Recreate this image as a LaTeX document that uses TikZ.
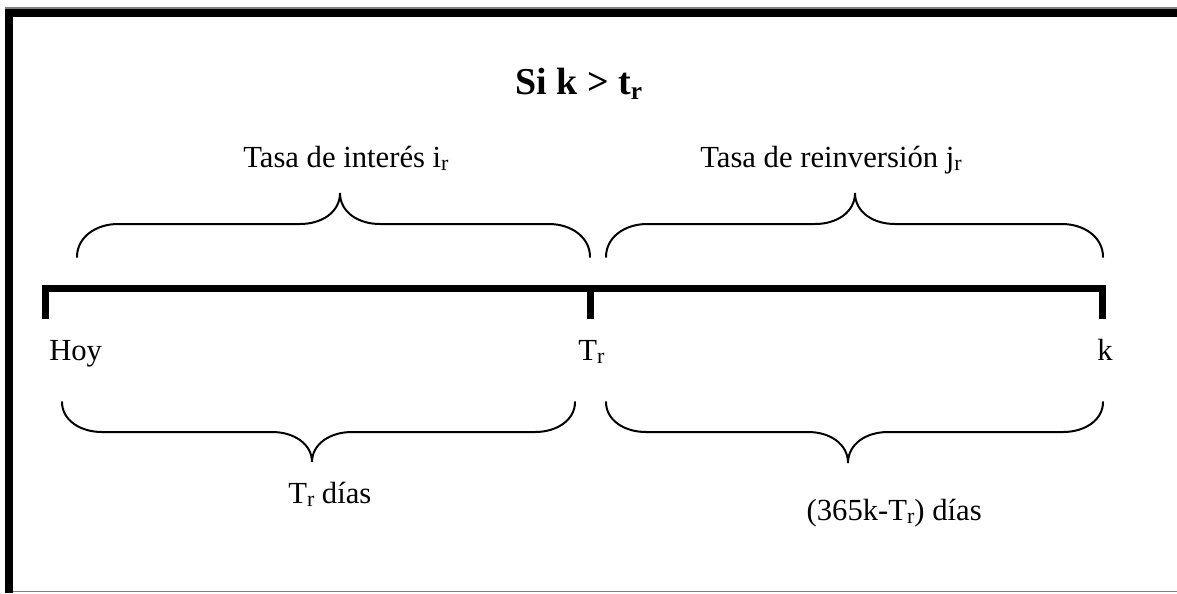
\documentclass[tikz,border=0pt]{standalone}
\usepackage{fontspec}
\setmainfont{Liberation Serif}
\newcommand{\sbr}[1]{\raisebox{-0.13em}{\fontsize{16.5}{16.5}\selectfont #1}}
\newcommand{\sbt}[1]{\raisebox{-0.15em}{\fontsize{19}{19}\selectfont #1}}
\begin{document}
\begin{tikzpicture}[x=0.75pt,y=-0.75pt,
  lbl/.style={inner sep=0pt,anchor=base west,font=\fontsize{23}{27}\selectfont},
  ttl/.style={inner sep=0pt,anchor=base west,font=\fontsize{28.5}{34}\selectfont\bfseries},
  axis/.style={line width=5.25pt},
  brc/.style={line width=1.5pt,line cap=round},
  frame/.style={line width=6pt},
  thin/.style={draw=gray,line width=1pt}]
\useasboundingbox (0,0) rectangle (1177,593);
% frame
\draw[thin] (5,8) -- (1177,8);
\draw[thin] (9,591.5) -- (1177,591.5);
\draw[frame] (9,12.5) -- (1177,12.5);
\draw[frame] (9,8.5) -- (9,593);
% title
\node[ttl] (title) at (515,94) {Si k > t\sbt{r}};
% axis
\coordinate (a0) at (45.5,288.5);
\coordinate (a1) at (590,288.5);
\coordinate (a2) at (1102,288.5);
\draw[axis] (a0) -- (a2);
\draw[axis] (45.5,285) -- (45.5,319);
\draw[axis] (590,291) -- (590,319);
\draw[axis] (1102,285) -- (1102,319);
% axis labels
\node[lbl] (hoy) at (49,360) {Hoy};
\node[lbl] (tr) at (578,360) {T\sbr{r}};
\node[lbl] (k) at (1097,360) {k};
% top labels
\node[lbl] (ti) at (243,167) {Tasa de interés i\sbr{r}};
\node[lbl] (tj) at (700,167) {Tasa de reinversión j\sbr{r}};
% bottom labels
\node[lbl] (dl) at (288,503) {T\sbr{r} días};
\node[lbl,anchor=base east] (dr) at (982,520) {(365k-T\sbr{r}) días};
% top braces
\draw[brc] (77,257) .. controls (77,237) and (96,224) .. (118,224) -- (300,224)
  .. controls (322,224) and (340,212) .. (340,193)
  .. controls (340,212) and (358,224) .. (380,224) -- (549,224)
  .. controls (571,224) and (590,237) .. (590,257);
\draw[brc] (606,257) .. controls (606,237) and (625,224) .. (647,224) -- (815,224)
  .. controls (837,224) and (855,212) .. (855,193)
  .. controls (855,212) and (873,224) .. (895,224) -- (1062,224)
  .. controls (1084,224) and (1103,237) .. (1103,257);
% bottom braces
\draw[brc] (62,402) .. controls (62,420) and (80,432) .. (102,432) -- (272,432)
  .. controls (294,432) and (312,444) .. (312,462)
  .. controls (312,444) and (330,432) .. (352,432) -- (535,432)
  .. controls (557,432) and (575,420) .. (575,402);
\draw[brc] (606,402) .. controls (606,420) and (624,432) .. (646,432) -- (808,432)
  .. controls (830,432) and (848,444) .. (848,463)
  .. controls (848,444) and (866,432) .. (888,432) -- (1063,432)
  .. controls (1085,432) and (1103,420) .. (1103,402);
\end{tikzpicture}
\end{document}
